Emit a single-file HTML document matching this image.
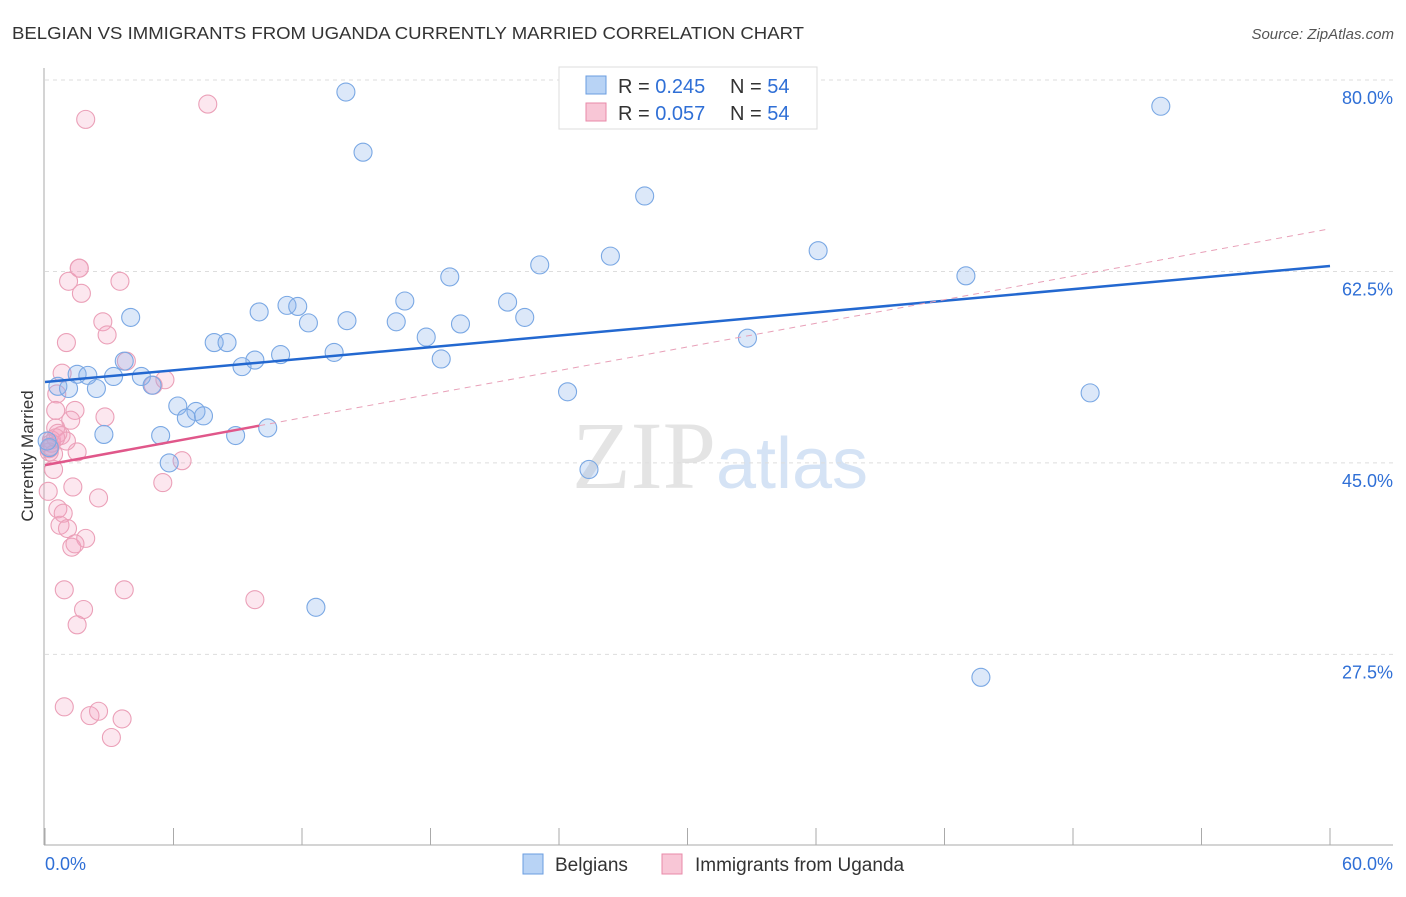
<!DOCTYPE html>
<html><head><meta charset="utf-8"><style>
body{margin:0;background:#fff;font-family:"Liberation Sans",sans-serif}
</style></head><body>
<svg id="chart" width="1406" height="892" xmlns="http://www.w3.org/2000/svg" font-family="Liberation Sans, sans-serif">
<text x="12" y="39" font-size="17.5" fill="#333" textLength="792" lengthAdjust="spacingAndGlyphs">BELGIAN VS IMMIGRANTS FROM UGANDA CURRENTLY MARRIED CORRELATION CHART</text>
<text x="1394" y="39" font-size="15" fill="#555" text-anchor="end" font-style="italic">Source: ZipAtlas.com</text>
<text x="720" y="488" font-size="96" text-anchor="middle" fill="#e4e4e4" font-family="Liberation Serif, serif">ZIP<tspan fill="#d5e3f5" font-family="Liberation Sans, sans-serif" font-size="72">atlas</tspan></text>
<text transform="translate(33,456) rotate(-90)" font-size="17" fill="#333" text-anchor="middle">Currently Married</text>
<g id="grid"></g>
<g id="axes"></g>
<g id="marks"></g>
<g>
<rect x="559" y="67" width="258" height="62" fill="#fff" stroke="#ddd"/>
<rect x="586" y="76" width="20" height="18" fill="#b8d3f5" stroke="#6a9de0"/>
<text x="618" y="93" font-size="20" fill="#333">R = <tspan fill="#2f6fd6">0.245</tspan></text>
<text x="730" y="93" font-size="20" fill="#333">N = <tspan fill="#2f6fd6">54</tspan></text>
<rect x="586" y="103" width="20" height="18" fill="#f8c6d6" stroke="#e88aa8"/>
<text x="618" y="120" font-size="20" fill="#333">R = <tspan fill="#2f6fd6">0.057</tspan></text>
<text x="730" y="120" font-size="20" fill="#333">N = <tspan fill="#2f6fd6">54</tspan></text>
</g>
<g>
<rect x="523" y="854" width="20" height="20" fill="#b8d3f5" stroke="#6a9de0"/>
<text x="555" y="871" font-size="19" fill="#333">Belgians</text>
<rect x="662" y="854" width="20" height="20" fill="#f8c6d6" stroke="#e88aa8"/>
<text x="695" y="871" font-size="19" fill="#333">Immigrants from Uganda</text>
</g>
</svg>
<script>
const yTicks=[80,62.5,45,27.5];
const yTickLabels=["80.0%","62.5%","45.0%","27.5%"];
const xTickLabels=["0.0%","60.0%"];
const blueX=[14.05,52.1,14.85,28.0,36.1,26.4,23.1,43.0,18.9,16.8,21.6,11.3,11.8,10.0,4.0,22.4,14.1,12.3,16.4,19.4,17.8,32.8,7.9,8.5,11.0,13.5,18.5,3.7,9.8,9.2,1.5,2.0,3.2,4.5,0.6,1.1,2.4,5.0,24.4,48.8,6.2,7.05,6.6,7.4,10.4,2.75,5.4,8.9,0.2,5.8,25.4,12.65,43.7,0.1];
const blueY=[78.9,77.6,73.4,69.4,64.4,63.9,63.1,62.1,62.0,59.8,59.7,59.4,59.3,58.8,58.3,58.3,58.0,57.8,57.9,57.7,56.5,56.4,56.0,56.0,54.9,55.1,54.5,54.3,54.4,53.8,53.1,53.0,52.9,52.9,52.0,51.8,51.8,52.1,51.5,51.4,50.2,49.7,49.1,49.3,48.2,47.6,47.5,47.5,46.4,45.0,44.4,31.8,25.4,47.0];
const pinkX=[7.6,1.9,1.6,1.1,3.5,1.7,2.7,2.9,1.0,3.8,0.8,5.6,5.05,0.55,1.4,0.5,2.8,1.2,0.5,0.75,0.3,0.2,1.5,6.4,0.4,5.5,0.15,1.3,2.5,0.6,0.85,0.7,1.05,1.9,1.25,1.4,0.9,3.7,9.8,1.8,1.5,0.9,2.1,2.5,3.6,3.1,1.6,0.3,0.2,0.6,1.0,0.4,0.25,0.5];
const pinkY=[77.8,76.4,62.8,61.6,61.6,60.5,57.9,56.7,56.0,54.3,53.2,52.6,52.1,51.3,49.8,49.8,49.2,48.9,48.2,47.5,47.1,46.0,46.0,45.2,44.4,43.2,42.4,42.8,41.8,40.8,40.4,39.3,39.0,38.1,37.3,37.6,33.4,33.4,32.5,31.6,30.2,22.7,21.9,22.3,21.6,19.9,62.8,46.8,46.3,47.7,47.0,45.8,46.5,47.3];
const blueTrendX=[0,60];const blueTrendY=[52.4,63.0];
const pinkTrendX=[0,10,60];const pinkTrendY=[44.8,48.4,66.4];
const X=v=>45+v/60*1285;
const Y=v=>80+(80-v)*10.94;
const NS="http://www.w3.org/2000/svg";
function mk(tag,attrs,parent){const e=document.createElementNS(NS,tag);for(const k in attrs)e.setAttribute(k,attrs[k]);document.getElementById(parent).appendChild(e);return e;}
yTicks.forEach((t,i)=>{
 const l=mk('line',{x1:45,x2:1393,y1:Y(t),y2:Y(t),stroke:'#ddd','stroke-dasharray':'4,4'},'grid');
 
 
 const tx=mk('text',{x:1393,y:Y(t)+24,'font-size':18,fill:'#2f6fd6','text-anchor':'end'},'grid');
 tx.textContent=yTickLabels[i];
 
 
});
const ax=mk('line',{x1:44,x2:44,y1:68,y2:845,stroke:'#aaa'},'axes');


const bx=mk('line',{x1:44,x2:1393,y1:845,y2:845,stroke:'#aaa'},'axes');


for(let i=0;i<=10;i++){const t=mk('line',{x1:X(i*6),x2:X(i*6),y1:828,y2:845,stroke:'#aaa'},'axes');
 
 }
[[0,'start',45],[60,'end',1393]].forEach((d,i)=>{const t=mk('text',{x:d[2],y:870,'font-size':18,fill:'#2f6fd6','text-anchor':d[1]},'axes');t.textContent=xTickLabels[i];
 
 });
pinkX.forEach((x,i)=>{const c=mk('circle',{cx:X(x),cy:Y(pinkY[i]),r:9,fill:'rgba(245,160,190,0.25)',stroke:'#eba0b8','stroke-width':1.1},'marks');
 
 });
blueX.forEach((x,i)=>{const c=mk('circle',{cx:X(x),cy:Y(blueY[i]),r:9,fill:'rgba(140,180,235,0.3)',stroke:'#7aa8e4','stroke-width':1.1},'marks');
 
 });
const bt=mk('line',{x1:X(blueTrendX[0]),y1:Y(blueTrendY[0]),x2:X(blueTrendX[1]),y2:Y(blueTrendY[1]),stroke:'#2368d0','stroke-width':2.5},'marks');


const pt=mk('line',{x1:X(pinkTrendX[0]),y1:Y(pinkTrendY[0]),x2:X(pinkTrendX[1]),y2:Y(pinkTrendY[1]),stroke:'#e0578a','stroke-width':2.5},'marks');


const pd=mk('line',{x1:X(pinkTrendX[1]),y1:Y(pinkTrendY[1]),x2:X(pinkTrendX[2]),y2:Y(pinkTrendY[2]),stroke:'#e8a0b8','stroke-width':1,'stroke-dasharray':'6,5'},'marks');


</script>
</body></html>
